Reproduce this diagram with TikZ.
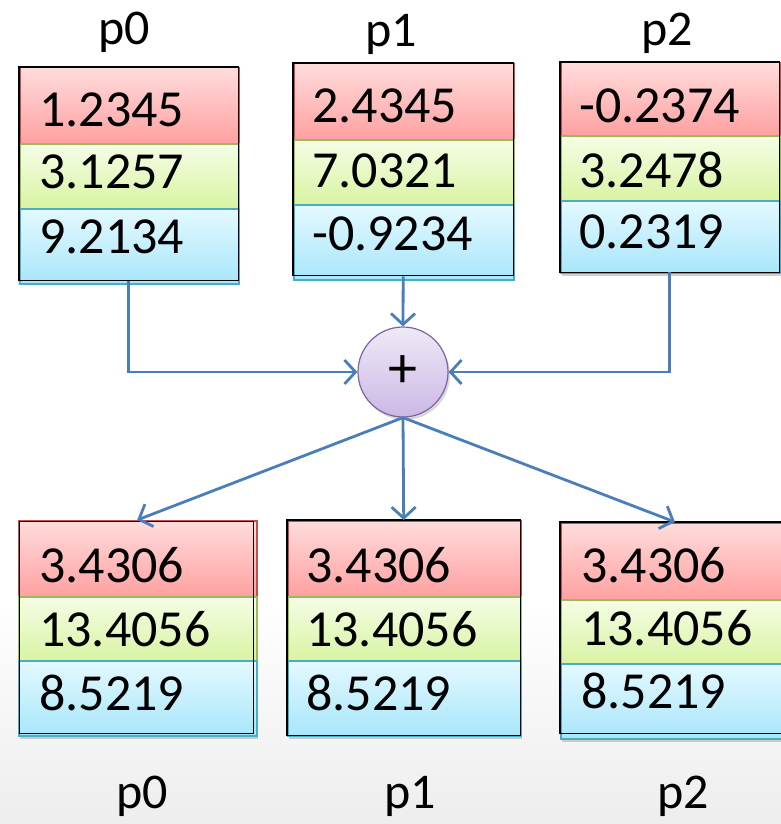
\documentclass[tikz,border=0pt]{standalone}
\usepackage{fontspec}
\setmainfont{Carlito}
\usetikzlibrary{arrows.meta,shadows}
\definecolor{redbd}{HTML}{C0504D}
\definecolor{redtp}{HTML}{FFDCDC}
\definecolor{redbt}{HTML}{FFA0A0}
\definecolor{grnbd}{HTML}{9BBB59}
\definecolor{grntp}{HTML}{F5FDE6}
\definecolor{grnbt}{HTML}{D8F4A2}
\definecolor{blubd}{HTML}{4BACC6}
\definecolor{blutp}{HTML}{E4F9FF}
\definecolor{blubt}{HTML}{A8E6FB}
\definecolor{purbd}{HTML}{8064A2}
\definecolor{purtp}{HTML}{EFE9F7}
\definecolor{purbt}{HTML}{CBB8E6}
\definecolor{linkc}{HTML}{4A7EBB}
\tikzset{
  shadowbox/.style={anchor=north west, inner sep=0pt, fill=white, draw=none,
    drop shadow={shadow xshift=2pt, shadow yshift=-4pt, opacity=0.35}},
  outline/.style={draw=black, line width=1.6pt},
  cellr/.style={anchor=north west, inner sep=0pt, draw=redbd, line width=1.5pt, top color=redtp, bottom color=redbt},
  cellg/.style={anchor=north west, inner sep=0pt, draw=grnbd, line width=1.5pt, top color=grntp, bottom color=grnbt},
  cellb/.style={anchor=north west, inner sep=0pt, draw=blubd, line width=1.5pt, top color=blutp, bottom color=blubt},
  val/.style={anchor=base west, inner sep=0pt, font=\fontsize{52}{60}\selectfont},
  lab/.style={anchor=base, inner sep=0pt, font=\fontsize{50}{60}\selectfont},
  sumc/.style={circle, draw=purbd, line width=1.2pt, top color=purtp, bottom color=purbt,
    minimum size=90pt, inner sep=0pt, font=\fontsize{58}{60}\selectfont,
    drop shadow={shadow xshift=2pt, shadow yshift=-3pt, opacity=0.3}},
  link/.style={draw=linkc, line width=2.8pt, -{Straight Barb[length=11pt,width=24pt]}},
}
\begin{document}
\begin{tikzpicture}[x=1pt,y=-1pt]
\useasboundingbox (0,0) rectangle (781,824);
\fill[white] (0,0) rectangle (781,824);
\shade[top color=white, bottom color=black!7] (0,600) rectangle (781,824);

% ---------- top box p0 ----------
\node[shadowbox, minimum width=219pt, minimum height=214pt] (a0) at (19,67) {};
\node[cellr, minimum width=219pt, minimum height=76pt] (a0r) at (19,67) {};
\node[cellg, minimum width=219pt, minimum height=65pt] (a0g) at (19,143) {};
\node[cellb, minimum width=219pt, minimum height=75pt] (a0b) at (19,208) {};
\draw[outline] (a0.north west) rectangle ([yshift=1pt]a0.south east);
\node[val] (a0t1) at (39,127) {1.2345};
\node[val] (a0t2) at (39,188) {3.1257};
\node[val] (a0t3) at (39,253) {9.2134};
\node[lab] (a0l) at (124,45) {p0};

% ---------- top box p1 ----------
\node[shadowbox, minimum width=220pt, minimum height=213pt] (a1) at (293,63) {};
\node[cellr, minimum width=220pt, minimum height=76pt] (a1r) at (293,63) {};
\node[cellg, minimum width=220pt, minimum height=65pt] (a1g) at (293,139) {};
\node[cellb, minimum width=220pt, minimum height=75pt] (a1b) at (293,204) {};
\draw[outline] (a1.north west) rectangle ([yshift=1pt]a1.south east);
\node[val] (a1t1) at (312,123) {2.4345};
\node[val] (a1t2) at (312,187) {7.0321};
\node[val] (a1t3) at (312,250) {-0.9234};
\node[lab] (a1l) at (391,47) {p1};

% ---------- top box p2 ----------
\node[shadowbox, minimum width=219pt, minimum height=210pt] (a2) at (560,62) {};
\node[cellr, minimum width=219pt, minimum height=73pt] (a2r) at (560,62) {};
\node[cellg, minimum width=219pt, minimum height=65pt] (a2g) at (560,135) {};
\node[cellb, minimum width=219pt, minimum height=72pt] (a2b) at (560,200) {};
\draw[outline] (a2.north west) rectangle (a2.south east);
\node[val] (a2t1) at (579,122) {-0.2374};
\node[val] (a2t2) at (579,187) {3.2478};
\node[val] (a2t3) at (579,248) {0.2319};
\node[lab] (a2l) at (667,46) {p2};

% ---------- sum ----------
\node[sumc] (plus) at (403,372) {+};

% ---------- bottom box p0 ----------
\node[shadowbox, minimum width=238pt, minimum height=215pt] (b0) at (18,520) {};
\node[cellr, minimum width=238pt, minimum height=76pt] (b0r) at (18,520) {};
\node[cellg, minimum width=238pt, minimum height=64pt] (b0g) at (18,596) {};
\node[cellb, minimum width=238pt, minimum height=75pt] (b0b) at (18,660) {};
\draw[outline, line width=1.3pt] ([xshift=1.5pt,yshift=-1.5pt]b0.north west) rectangle ([xshift=-3pt,yshift=2pt]b0.south east);
\node[val] (b0t1) at (39,582) {3.4306};
\node[val] (b0t2) at (39,646) {13.4056};
\node[val] (b0t3) at (39,710) {8.5219};
\node[lab] (b0l) at (142,808) {p0};

% ---------- bottom box p1 ----------
\node[shadowbox, minimum width=233pt, minimum height=215pt] (b1) at (287,520) {};
\node[cellr, minimum width=233pt, minimum height=76pt] (b1r) at (287,520) {};
\node[cellg, minimum width=233pt, minimum height=64pt] (b1g) at (287,596) {};
\node[cellb, minimum width=233pt, minimum height=75pt] (b1b) at (287,660) {};
\draw[outline, line width=1.3pt] (b1.north west) rectangle (b1.south east);
\node[val] (b1t1) at (306,582) {3.4306};
\node[val] (b1t2) at (306,646) {13.4056};
\node[val] (b1t3) at (306,710) {8.5219};
\node[lab] (b1l) at (410,808) {p1};

% ---------- bottom box p2 ----------
\node[shadowbox, minimum width=240pt, minimum height=216pt] (b2) at (560,522) {};
\node[cellr, minimum width=240pt, minimum height=77pt] (b2r) at (560,522) {};
\node[cellg, minimum width=240pt, minimum height=64pt] (b2g) at (560,599) {};
\node[cellb, minimum width=240pt, minimum height=75pt] (b2b) at (560,663) {};
\draw[outline, line width=1.3pt] (b2.north west) rectangle ([yshift=5pt]b2.south east);
\node[val] (b2t1) at (581,582) {3.4306};
\node[val] (b2t2) at (581,645) {13.4056};
\node[val] (b2t3) at (581,708) {8.5219};
\node[lab] (b2l) at (683,808) {p2};
\coordinate (b2in) at (675,522);

% ---------- connectors ----------
\draw[link] (a0.south) |- (plus.west);
\draw[link] (a1.south) -- (plus.north);
\draw[link] (a2.south) |- (plus.east);
\draw[link] (plus.south) -- (b0.north);
\draw[link] (plus.south) -- (b1.north);
\draw[link] (plus.south) -- (b2in);
\end{tikzpicture}
\end{document}
